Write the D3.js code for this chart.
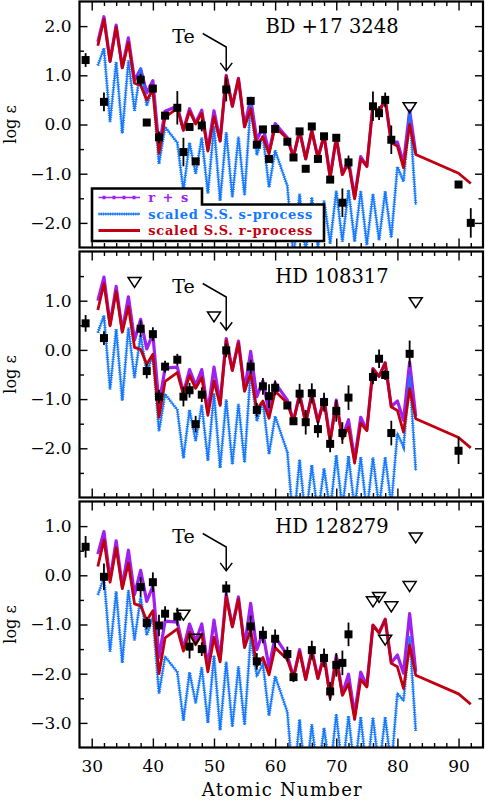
<!doctype html>
<html>
<head>
<meta charset="UTF-8" />
<script src="https://d3js.org/d3.v7.min.js"></script>
<style>
  body { margin: 0; background: #fff; }
  svg { display: block; }
  text { font-family: "DejaVu Serif", serif; fill: #000; }
</style>
</head>
<body>
<svg id="chart" width="485" height="801"></svg>
<script>
(function () {
  "use strict";

  // atomic numbers of the model curves (no Tc, no Pm)
  const curveZ = [31,32,33,34,35,36,37,38,39,40,41,42,44,45,46,47,48,49,50,51,52,53,54,55,56,57,58,59,60,
                  62,63,64,65,66,67,68,69,70,71,72,73,74,75,76,77,78,79,80,81,82,83];
  // the r-process curve also has Th and U
  const rZ = curveZ.concat([90, 92]);

  // ---- BD +17 3248 ----
  const bdR = [1.60,2.14,1.28,1.98,1.15,1.67,0.84,0.80,0.50,0.70,-0.58,0.15,0.33,-0.12,0.27,0.01,0.23,-0.54,0.16,-0.34,
               0.98,0.37,0.93,-0.05,0.32,-0.42,-0.25,-0.60,-0.05,-0.29,-0.66,-0.13,-0.70,-0.13,-0.68,-0.23,-1.08,-0.28,
               -1.02,-0.78,-1.51,-0.70,-0.85,0.40,0.25,0.52,-0.37,-0.44,-0.88,0.00,-0.61,-0.99,-1.20];
  const bdS = [1.20,1.55,0.05,1.27,-0.18,1.30,0.28,1.15,0.38,0.75,-0.80,-0.05,-0.37,-1.35,-0.37,-1.00,-0.27,-1.40,-0.03,
               -1.55,-0.16,-1.48,-0.25,-1.44,0.42,-0.62,-0.22,-1.28,-0.53,-1.25,-2.72,-1.41,-2.60,-1.48,-2.50,-1.55,-2.42,
               -1.35,-2.38,-1.33,-2.38,-1.35,-2.45,-1.41,-2.35,-1.36,-2.30,-0.86,-1.16,0.25,-1.63];
  const bdRS = [1.68,2.19,1.29,2.02,1.16,1.76,0.90,1.13,0.64,0.89,-0.47,0.27,0.37,-0.11,0.32,0.03,0.29,-0.51,0.28,-0.33,
                1.00,0.37,0.94,-0.04,0.53,-0.31,-0.06,-0.56,0.02,-0.27,-0.66,-0.12,-0.70,-0.12,-0.68,-0.22,-1.07,-0.26,
                -1.01,-0.72,-1.48,-0.65,-0.85,0.40,0.25,0.52,-0.37,-0.36,-0.78,0.28,-0.59];
  const bdObsZ = [29,32,38,39,40,41,42,44,45,46,47,48,52,56,57,58,59,60,62,63,64,65,66,67,68,69,70,71,72,76,77,78,79,90,92];
  const bdObs = [1.31,0.46,0.91,0.04,0.73,-0.26,0.18,0.34,-0.56,-0.05,-0.75,-0.02,0.71,0.48,-0.41,-0.10,-0.70,-0.09,
                 -0.35,-0.67,-0.14,-0.90,-0.04,-0.70,-0.24,-1.12,-0.27,-1.59,-0.77,0.37,0.23,0.50,-0.31,-1.22,-2.00];
  const bdErr = [0.14,0.19,0.12,0.05,0.08,0.12,0.08,0.34,0.29,0.05,0.05,0.12,0.24,0.05,0.05,0.05,0.05,0.05,
                 0.05,0.05,0.05,0.05,0.05,0.05,0.05,0.05,0.05,0.29,0.14,0.30,0.14,0.15,0.29,0.05,0.30];
  const bdLimZ = [82];
  const bdLim = [0.34];

  // ---- HD 108317 ----
  const hdaR = [0.81,1.35,0.49,1.19,0.36,0.88,0.05,0.01,-0.29,-0.09,-1.37,-0.64,-0.46,-0.91,-0.52,-0.78,-0.56,-1.33,-0.63,
                -1.13,0.19,-0.42,0.14,-0.84,-0.47,-1.21,-1.04,-1.39,-0.84,-1.08,-1.45,-0.92,-1.49,-0.92,-1.47,-1.02,-1.87,
                -1.07,-1.81,-1.57,-2.30,-1.49,-1.64,-0.39,-0.54,-0.27,-1.16,-1.23,-1.67,-0.79,-1.40,-1.78,-1.99];
  const hdaS = [0.35,0.70,-0.80,0.42,-1.03,0.45,-0.57,0.30,-0.47,-0.10,-1.65,-0.90,-1.22,-2.20,-1.22,-1.85,-1.12,-2.25,
                -0.88,-2.40,-1.01,-2.33,-1.10,-2.29,-0.40,-1.45,-1.05,-2.12,-1.35,-2.08,-3.57,-2.23,-3.45,-2.34,-3.35,-2.41,
                -3.27,-2.14,-3.23,-2.16,-3.23,-2.18,-3.30,-2.19,-3.20,-2.18,-3.15,-1.70,-1.97,-0.52,-2.45];
  const hdaRS = [1.00,1.48,0.52,1.29,0.39,1.08,0.20,0.62,0.02,0.32,-1.11,-0.37,-0.35,-0.88,-0.40,-0.72,-0.40,-1.25,-0.35,
                 -1.09,0.23,-0.41,0.18,-0.82,-0.03,-0.95,-0.63,-1.28,-0.67,-1.02,-1.45,-0.89,-1.48,-0.90,-1.46,-0.99,-1.84,
                 -1.02,-1.78,-1.42,-2.23,-1.37,-1.63,-0.38,-0.54,-0.26,-1.15,-1.04,-1.43,-0.25,-1.35];
  const hdaObsZ = [29,32,38,39,40,41,42,44,45,46,47,48,52,56,57,58,59,60,62,63,64,65,66,67,68,69,70,71,72,76,77,78,79,82,90];
  const hdaObs = [0.54,0.24,0.43,-0.43,0.32,-0.95,-0.34,-0.20,-0.95,-0.82,-1.51,-0.91,-0.01,-0.34,-1.22,-0.74,-0.94,-0.77,
                  -1.13,-1.45,-0.89,-1.47,-0.88,-1.61,-1.06,-1.91,-1.24,-1.69,-0.97,-0.55,-0.18,-0.51,-1.69,-0.08,-2.05];
  const hdaErr = [0.17,0.14,0.17,0.15,0.14,0.14,0.12,0.12,0.20,0.15,0.17,0.15,0.14,0.14,0.14,0.17,0.24,0.15,
                  0.08,0.08,0.20,0.25,0.20,0.17,0.19,0.17,0.22,0.22,0.25,0.15,0.19,0.10,0.25,0.27,0.27];
  const hdaLimZ = [37, 50, 83];
  const hdaLim = [1.37, 0.67, 0.96];

  // ---- HD 128279 ----
  const hdbR = [0.18,0.72,-0.14,0.56,-0.27,0.25,-0.58,-0.62,-0.92,-0.72,-2.00,-1.27,-1.09,-1.54,-1.15,-1.41,-1.19,-1.96,-1.26,
                -1.76,-0.44,-1.05,-0.49,-1.47,-1.10,-1.84,-1.67,-2.02,-1.47,-1.71,-2.08,-1.55,-2.12,-1.55,-2.10,-1.65,-2.50,
                -1.70,-2.44,-2.20,-2.93,-2.12,-2.27,-1.02,-1.17,-0.90,-1.79,-1.86,-2.30,-1.42,-2.03,-2.41,-2.62];
  const hdbS = [-0.40,-0.05,-1.55,-0.33,-1.78,-0.30,-1.32,-0.45,-1.22,-0.85,-2.40,-1.65,-1.97,-2.95,-1.97,-2.60,-1.87,-3.00,
                -1.63,-3.15,-1.76,-3.08,-1.85,-3.04,-1.25,-2.05,-1.80,-2.85,-2.05,-2.78,-4.30,-2.93,-4.20,-3.03,-4.10,-3.10,
                -4.00,-2.82,-3.98,-2.86,-3.98,-2.88,-4.05,-2.89,-3.95,-2.88,-3.90,-2.40,-2.55,-1.24,-3.16];
  const hdbRS = [0.43,0.89,-0.09,0.70,-0.23,0.51,-0.39,0.10,-0.53,-0.22,-1.67,-0.93,-0.95,-1.49,-0.99,-1.34,-0.99,-1.86,-0.91,
                 -1.71,-0.38,-1.04,-0.44,-1.44,-0.57,-1.51,-1.17,-1.87,-1.25,-1.63,-2.07,-1.51,-2.11,-1.52,-2.09,-1.61,-2.46,
                 -1.63,-2.41,-2.01,-2.83,-1.97,-2.25,-1.01,-1.17,-0.89,-1.78,-1.62,-1.99,-0.78,-1.96];
  const hdbObsZ = [29,32,38,39,40,41,42,44,46,48,52,56,57,58,60,62,63,66,68,69,70,71,72];
  const hdbObs = [0.58,-0.03,-0.24,-0.97,-0.14,-1.02,-0.78,-0.84,-1.45,-1.50,-0.27,-1.04,-1.75,-1.21,-1.29,-1.60,-2.07,
                  -1.52,-1.68,-2.36,-1.82,-1.78,-1.20];
  const hdbErr = [0.22,0.27,0.20,0.12,0.20,0.22,0.15,0.18,0.24,0.14,0.15,0.22,0.17,0.17,0.19,0.15,0.10,0.19,0.19,0.19,
                  0.24,0.25,0.24];
  const hdbLimZ = [45, 47, 76, 77, 78, 79, 82, 83];
  const hdbLim = [-0.81, -1.30, -0.54, -0.45, -1.32, -0.64, -0.23, 0.76];

  const starNames = ["BD +17 3248", "HD 108317", "HD 128279"];
  const yDomains = [[-2.5, 2.5], [-3.0, 2.0], [-3.5, 1.5]];
  const teArrowTip = [1.09, 0.40, 0.09];
  const legendLabels = ["r + s", "scaled S.S. s-process", "scaled S.S. r-process"];

  const panels = [
    { r: bdR, s: bdS, rs: bdRS, obsZ: bdObsZ, obs: bdObs, err: bdErr, limZ: bdLimZ, lim: bdLim },
    { r: hdaR, s: hdaS, rs: hdaRS, obsZ: hdaObsZ, obs: hdaObs, err: hdaErr, limZ: hdaLimZ, lim: hdaLim },
    { r: hdbR, s: hdbS, rs: hdbRS, obsZ: hdbObsZ, obs: hdbObs, err: hdbErr, limZ: hdbLimZ, lim: hdbLim }
  ];

  const colRS = "#a020f0", colS = "#1478ff", colR = "#c00010";

  const svg = d3.select("#chart");
  const x = d3.scaleLinear().domain([28, 94]).range([79.5, 483]);
  const panelTop = [1.5, 251.5, 501.5];
  const panelH = 246;
  const x0 = x.range()[0], x1 = x.range()[1];

  const xMinor = d3.range(30, 93, 2).filter(v => v % 10 !== 0);
  const xMajor = d3.range(30, 91, 10);

  panels.forEach(function (p, i) {
    const top = panelTop[i];
    const dom = yDomains[i];
    const y = d3.scaleLinear().domain(dom).range([top + panelH, top]);
    const g = svg.append("g");

    g.append("clipPath").attr("id", "clip" + i)
      .append("rect").attr("x", x0).attr("y", top).attr("width", x1 - x0).attr("height", panelH);

    const curves = g.append("g").attr("clip-path", "url(#clip" + i + ")");
    const line = d3.line().x(d => x(d[0])).y(d => y(d[1]));

    // r + s
    curves.append("path").datum(d3.zip(curveZ, p.rs))
      .attr("d", line).attr("fill", "none").attr("stroke", colRS).attr("stroke-width", 3.2)
      .attr("stroke-linejoin", "round");
    // s-process (beaded dotted)
    const sPts = d3.zip(curveZ, p.s);
    curves.append("path").datum(sPts)
      .attr("d", line).attr("fill", "none").attr("stroke", colS).attr("stroke-width", 1.4);
    curves.append("path").datum(sPts)
      .attr("d", line).attr("fill", "none").attr("stroke", colS).attr("stroke-width", 3.2)
      .attr("stroke-dasharray", "1 1.3");
    // r-process
    curves.append("path").datum(d3.zip(rZ, p.r))
      .attr("d", line).attr("fill", "none").attr("stroke", colR).attr("stroke-width", 2.8)
      .attr("stroke-linejoin", "round");

    // observed abundances
    const obs = d3.zip(p.obsZ, p.obs, p.err);
    g.append("g").selectAll("line").data(obs.filter(d => d[2] > 0.08)).join("line")
      .attr("x1", d => x(d[0])).attr("x2", d => x(d[0]))
      .attr("y1", d => y(d[1] - d[2])).attr("y2", d => y(d[1] + d[2]))
      .attr("stroke", "#000").attr("stroke-width", 1.8);
    g.append("g").selectAll("rect").data(obs).join("rect")
      .attr("x", d => x(d[0]) - 4).attr("y", d => y(d[1]) - 4)
      .attr("width", 8).attr("height", 8).attr("fill", "#000");

    // upper limits
    const lims = d3.zip(p.limZ, p.lim);
    g.append("g").selectAll("path").data(lims).join("path")
      .attr("d", d => {
        const cx = x(d[0]), cy = y(d[1]);
        return `M${cx - 6.5},${cy - 5}L${cx + 6.5},${cy - 5}L${cx},${cy + 5}Z`;
      })
      .attr("fill", "none").attr("stroke", "#000").attr("stroke-width", 1.5);

    // frame
    g.append("rect").attr("x", x0).attr("y", top).attr("width", x1 - x0).attr("height", panelH)
      .attr("fill", "none").attr("stroke", "#000").attr("stroke-width", 2.2);

    // ticks
    const yMinor = d3.range(Math.ceil(dom[0] * 2) / 2 + 0.5, dom[1], 0.5).filter(v => Math.abs(v % 1) > 0.01);
    const yMajor = d3.range(Math.ceil(dom[0]) + (Number.isInteger(dom[0]) ? 1 : 0), dom[1] - 0.01, 1);

    function ticks(gen, tr, vals, size) {
      g.append("g").attr("transform", tr)
        .call(gen.tickValues(vals).tickSize(size).tickFormat(""))
        .call(a => a.select(".domain").remove())
        .call(a => a.selectAll("line").attr("stroke-width", 1.4));
    }
    ticks(d3.axisBottom(x), `translate(0,${top + panelH})`, xMinor, -4.5);
    ticks(d3.axisTop(x), `translate(0,${top})`, xMinor, -4.5);
    ticks(d3.axisTop(x), `translate(0,${top})`, xMajor, -9);
    ticks(d3.axisLeft(y), `translate(${x0},0)`, yMinor, -4.5);
    ticks(d3.axisRight(y), `translate(${x1},0)`, yMinor, -4.5);
    ticks(d3.axisRight(y), `translate(${x1},0)`, yMajor, -8);

    // y labels (major ticks)
    g.append("g").attr("transform", `translate(${x0},0)`)
      .call(d3.axisLeft(y).tickValues(yMajor).tickSize(-8).tickPadding(8).tickFormat(d3.format(".1f")))
      .call(a => a.select(".domain").remove())
      .call(a => a.selectAll("line").attr("stroke-width", 1.4))
      .call(a => a.selectAll("text").attr("font-size", 17).attr("font-family", "DejaVu Serif"));

    // x axis at bottom; labels only for the last panel
    const xb = d3.axisBottom(x).tickValues(xMajor).tickSize(-9).tickPadding(12);
    if (i < panels.length - 1) xb.tickFormat("");
    g.append("g").attr("transform", `translate(0,${top + panelH})`)
      .call(xb)
      .call(a => a.select(".domain").remove())
      .call(a => a.selectAll("line").attr("stroke-width", 1.4))
      .call(a => a.selectAll("text").attr("font-size", 17).attr("font-family", "DejaVu Serif"));

    // y-axis title
    g.append("text")
      .attr("transform", `translate(15.5,${top + panelH / 2}) rotate(-90)`)
      .attr("text-anchor", "middle").attr("font-size", 16)
      .text("log ε");

    // star name
    g.append("text").attr("x", 332).attr("y", top + 31.8)
      .attr("text-anchor", "middle").attr("font-size", 19.5)
      .text(starNames[i]);

    // Te annotation
    const tx = x(52), tipY = y(teArrowTip[i]);
    g.append("text").attr("x", tx - 54).attr("y", top + 41.8).attr("font-size", 19).text("Te");
    g.append("path")
      .attr("d", `M${tx - 23.5},${top + 32}L${tx},${top + 45.5}L${tx},${tipY}` +
                 `M${tx - 6},${tipY - 8}L${tx},${tipY}L${tx + 6},${tipY - 8}`)
      .attr("fill", "none").attr("stroke", "#000").attr("stroke-width", 1.5);
  });

  // axis title
  svg.append("text").attr("x", 281.7).attr("y", 796)
    .attr("text-anchor", "middle").attr("font-size", 18)
    .attr("textLength", 160).attr("lengthAdjust", "spacing")
    .text("Atomic Number");

  // legend (top panel)
  const lg = svg.append("g");
  lg.append("path")
    .attr("d", "M92,188.5L202,188.5L202,204.5L324,204.5L324,241L92,241Z")
    .attr("fill", "#fff").attr("stroke", "#000").attr("stroke-width", 2.6);

  const rowY = [197.5, 214, 230.5];
  const lx0 = 98.5, lx1 = 140;
  lg.append("line").attr("x1", lx0).attr("x2", lx1).attr("y1", rowY[0]).attr("y2", rowY[0])
    .attr("stroke", colRS).attr("stroke-width", 1.6);
  lg.append("line").attr("x1", lx0).attr("x2", lx1).attr("y1", rowY[0]).attr("y2", rowY[0])
    .attr("stroke", colRS).attr("stroke-width", 3.5).attr("stroke-dasharray", "3 7").attr("stroke-dashoffset", -4);
  lg.append("line").attr("x1", lx0).attr("x2", lx1).attr("y1", rowY[1]).attr("y2", rowY[1])
    .attr("stroke", colS).attr("stroke-width", 1.4);
  lg.append("line").attr("x1", lx0).attr("x2", lx1).attr("y1", rowY[1]).attr("y2", rowY[1])
    .attr("stroke", colS).attr("stroke-width", 3.2).attr("stroke-dasharray", "1 1.3");
  lg.append("line").attr("x1", lx0).attr("x2", lx1).attr("y1", rowY[2]).attr("y2", rowY[2])
    .attr("stroke", colR).attr("stroke-width", 2.8);

  const legendCols = [colRS, colS, colR];
  const legendLen = [40, 164, 164];
  lg.selectAll("text.leg").data(legendLabels).join("text")
    .attr("class", "leg")
    .attr("x", 148.3).attr("y", (d, k) => rowY[k] + 4.5)
    .attr("font-size", 13).attr("font-weight", "bold")
    .attr("textLength", (d, k) => legendLen[k]).attr("lengthAdjust", "spacing")
    .style("fill", (d, k) => legendCols[k])
    .text(d => d);
})();
</script>
</body>
</html>
